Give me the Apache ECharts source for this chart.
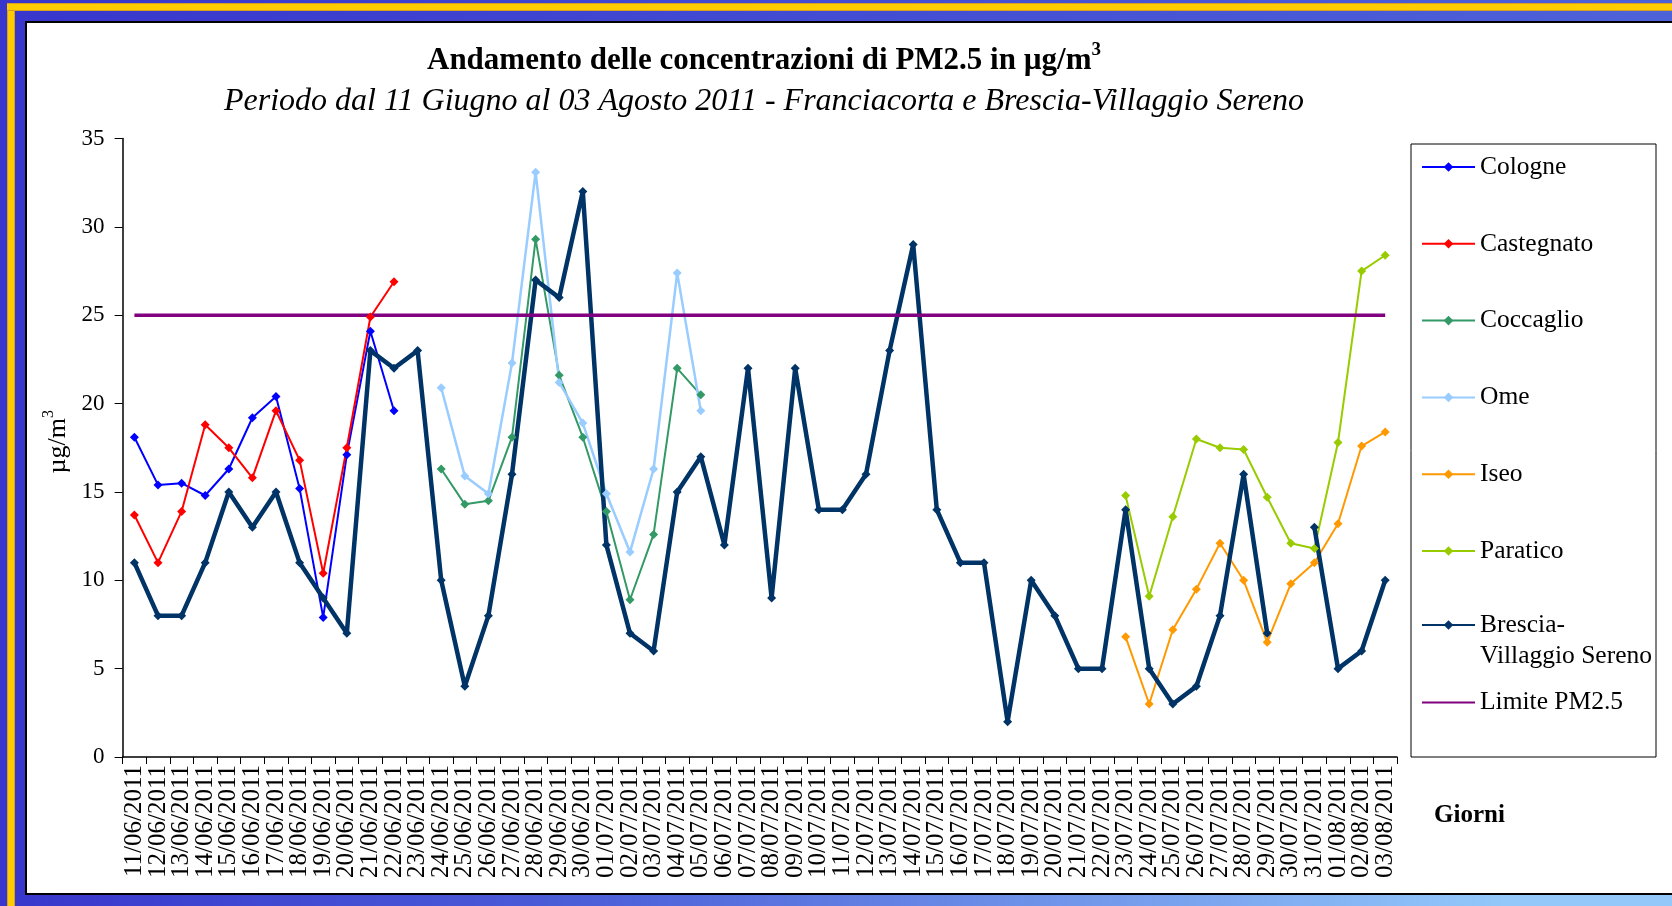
<!DOCTYPE html>
<html>
<head>
<meta charset="utf-8">
<title>Andamento PM2.5</title>
<script src="https://cdn.jsdelivr.net/npm/echarts@6/dist/echarts.min.js"></script>
<style>
    html, body { margin: 0; padding: 0; width: 1672px; height: 906px; overflow: hidden; }
    body { position: relative; background: linear-gradient(to right, #3836cc, #4e62d8); }
    .band-bottom { position: absolute; left: 0; top: 893px; width: 1672px; height: 13px;
        background: linear-gradient(to right, #3836cc 0%, #4c5ed8 35%, #92c8fa 90%); }
    .yellow-top { position: absolute; left: 7px; top: 3px; width: 1665px; height: 8px; background: #ffcc00;
        box-sizing: border-box; border-top: 1px solid #d8a020; border-bottom: 1px solid #d8a020; }
    .yellow-left { position: absolute; left: 7px; top: 3px; width: 8px; height: 903px; background: #ffcc00;
        box-sizing: border-box; border-left: 1px solid #d8a020; border-right: 1px solid #d8a020; }
    .panel { position: absolute; left: 25px; top: 21px; width: 1660px; height: 870px; background: #fff;
        border: 2px solid #000; }
    #main { position: absolute; left: 0; top: 0; width: 1672px; height: 906px; }
</style>
</head>
<body>
<div class="band-bottom"></div>
<div class="yellow-left"></div>
<div class="yellow-top"></div>
<div class="panel"></div>
<div id="main"></div>
<script>
    // giorni del periodo
    var categories = [
        '11/06/2011', '12/06/2011', '13/06/2011', '14/06/2011', '15/06/2011', '16/06/2011', '17/06/2011',
        '18/06/2011', '19/06/2011', '20/06/2011', '21/06/2011', '22/06/2011', '23/06/2011', '24/06/2011',
        '25/06/2011', '26/06/2011', '27/06/2011', '28/06/2011', '29/06/2011', '30/06/2011', '01/07/2011',
        '02/07/2011', '03/07/2011', '04/07/2011', '05/07/2011', '06/07/2011', '07/07/2011', '08/07/2011',
        '09/07/2011', '10/07/2011', '11/07/2011', '12/07/2011', '13/07/2011', '14/07/2011', '15/07/2011',
        '16/07/2011', '17/07/2011', '18/07/2011', '19/07/2011', '20/07/2011', '21/07/2011', '22/07/2011',
        '23/07/2011', '24/07/2011', '25/07/2011', '26/07/2011', '27/07/2011', '28/07/2011', '29/07/2011',
        '30/07/2011', '31/07/2011', '01/08/2011', '02/08/2011', '03/08/2011'
    ];

    // campagne mobili (valori dal primo giorno di misura)
    var cologne = [18.1, 15.4, 15.5, 14.8, 16.3, 19.2, 20.4, 15.2, 7.9, 17.1, 24.1, 19.6];
    var cologneStart = 0;
    var castegnato = [13.7, 11.0, 13.9, 18.8, 17.5, 15.8, 19.6, 16.8, 10.4, 17.5, 24.9, 26.9];
    var castegnatoStart = 0;
    var coccaglio = [16.3, 14.3, 14.5, 18.1, 29.3, 21.6, 18.1, 13.9, 8.9, 12.6, 22.0, 20.5];
    var coccaglioStart = 13;
    var ome = [20.9, 15.9, 14.9, 22.3, 33.1, 21.2, 18.9, 14.9, 11.6, 16.3, 27.4, 19.6];
    var omeStart = 13;
    var iseo = [6.8, 3.0, 7.2, 9.5, 12.1, 10.0, 6.5, 9.8, 11.0, 13.2, 17.6, 18.4];
    var iseoStart = 42;
    var paratico = [14.8, 9.1, 13.6, 18.0, 17.5, 17.4, 14.7, 12.1, 11.8, 17.8, 27.5, 28.4];
    var paraticoStart = 42;

    // stazione fissa
    var brescia = [11, 8, 8, 11, 15, 13, 15, 11, 9, 7, 23, 22, 23, 10, 4, 8, 16, 27, 26, 32,
        12, 7, 6, 15, 17, 12, 22, 9, 22, 14, 14, 16, 23, 29, 14, 11, 11, 2, 10, 8,
        5, 5, 14, 5, 3, 4, 8, 16, 7, null, 13, 5, 6, 10];

    var limite = 25;
    var yTicks = [0, 5, 10, 15, 20, 25, 30, 35];

    var serif = '"Liberation Serif", "DejaVu Serif", serif';
    var BRESCIA = 'Brescia-Villaggio Sereno';

    function pad(vals, start) {
        var out = [];
        for (var i = 0; i < categories.length; i++) {
            var k = i - start;
            out.push(k >= 0 && k < vals.length ? vals[k] : null);
        }
        return out;
    }

    function lineSeries(name, color, data, width) {
        return {
            name: name,
            type: 'line',
            data: data,
            symbol: 'diamond',
            symbolSize: 9,
            showAllSymbol: true,
            itemStyle: {color: color},
            lineStyle: {color: color, width: width},
            emphasis: {disabled: true},
            animation: false
        };
    }

    var limiteData = categories.map(function () { return limite; });

    var myChart = echarts.init(document.getElementById('main'));
    var opt = {
        backgroundColor: 'transparent',
        animation: false,
        title: {
            left: 759,
            top: 36,
            textAlign: 'center',
            text: 'Andamento delle concentrazioni di PM2.5 in µg/m{sup|3}',
            subtext: 'Periodo dal 11 Giugno al 03 Agosto 2011 - Franciacorta e Brescia-Villaggio Sereno',
            itemGap: 10,
            textStyle: {
                fontFamily: serif, fontWeight: 'bold', fontSize: 31, color: '#000',
                rich: {
                    sup: {fontFamily: serif, fontWeight: 'bold', fontSize: 19, color: '#000',
                        verticalAlign: 'bottom', padding: [0, 0, 20, 0]}
                }
            },
            subtextStyle: {fontFamily: serif, fontStyle: 'italic', fontSize: 32, color: '#000'}
        },
        legend: [{
            orient: 'vertical',
            left: 1421,
            top: 154,
            padding: 0,
            itemWidth: 53,
            itemHeight: 12,
            itemGap: 50.8,
            data: ['Cologne', 'Castegnato', 'Coccaglio', 'Ome', 'Iseo', 'Paratico'],
            textStyle: {fontFamily: serif, fontSize: 25.5, color: '#000'}
        }, {
            orient: 'vertical',
            left: 1421,
            top: 578.5,
            padding: 0,
            itemWidth: 53,
            itemHeight: 12,
            itemGap: 18,
            data: [
                {name: BRESCIA, textStyle: {lineHeight: 31}},
                {name: 'Limite PM2.5', itemStyle: {opacity: 0}}
            ],
            formatter: function (name) {
                return name === BRESCIA ? ' \nBrescia-\nVillaggio Sereno' : name;
            },
            textStyle: {fontFamily: serif, fontSize: 25.5, color: '#000'}
        }],
        grid: {left: 122.6, right: 275, top: 138.6, bottom: 149},
        xAxis: [{
            type: 'category',
            data: categories,
            boundaryGap: true,
            axisLine: {lineStyle: {color: '#000', width: 1.5}},
            axisTick: {show: true, length: 7, lineStyle: {color: '#000'}},
            axisLabel: {interval: 0, rotate: 90, margin: 8, fontFamily: serif, fontSize: 25, color: '#000'}
        }],
        yAxis: [{
            type: 'value',
            min: yTicks[0],
            max: yTicks[yTicks.length - 1],
            interval: 5,
            splitLine: {show: false},
            axisLine: {show: true, lineStyle: {color: '#000', width: 1.5}},
            axisTick: {show: true, length: 8, lineStyle: {color: '#000'}},
            axisLabel: {margin: 18, fontFamily: serif, fontSize: 23, color: '#000'},
            name: 'µg/m{sup|3}',
            nameLocation: 'middle',
            nameGap: 46,
            nameTextStyle: {
                fontFamily: serif, fontSize: 26, color: '#000',
                padding: [0, 0, 0, 12],
                rich: {
                    sup: {fontFamily: serif, fontSize: 16, color: '#000',
                        verticalAlign: 'bottom', padding: [0, 0, 18, 0]}
                }
            }
        }],
        graphic: [{
            type: 'rect',
            shape: {x: 1411, y: 144, width: 245, height: 613},
            style: {fill: 'none', stroke: '#000', lineWidth: 1},
            silent: true,
            z: -1
        }, {
            type: 'text',
            left: 1434,
            top: 803,
            style: {text: 'Giorni', font: 'bold 25px ' + serif, fill: '#000'}
        }],
        series: [
            lineSeries('Cologne', '#0000ff', pad(cologne, cologneStart), 2),
            lineSeries('Castegnato', '#ff0000', pad(castegnato, castegnatoStart), 2),
            lineSeries('Coccaglio', '#339966', pad(coccaglio, coccaglioStart), 2),
            lineSeries('Ome', '#99ccff', pad(ome, omeStart), 2.5),
            lineSeries('Iseo', '#ff9900', pad(iseo, iseoStart), 2),
            lineSeries('Paratico', '#99cc00', pad(paratico, paraticoStart), 2),
            lineSeries(BRESCIA, '#003366', brescia, 4.5),
            {
                name: 'Limite PM2.5',
                type: 'line',
                data: limiteData,
                symbol: 'none',
                lineStyle: {color: '#800080', width: 3.5},
                itemStyle: {color: '#800080'},
                emphasis: {disabled: true},
                animation: false
            }
        ]
    };
    myChart.setOption(opt);
</script>
</body>
</html>
